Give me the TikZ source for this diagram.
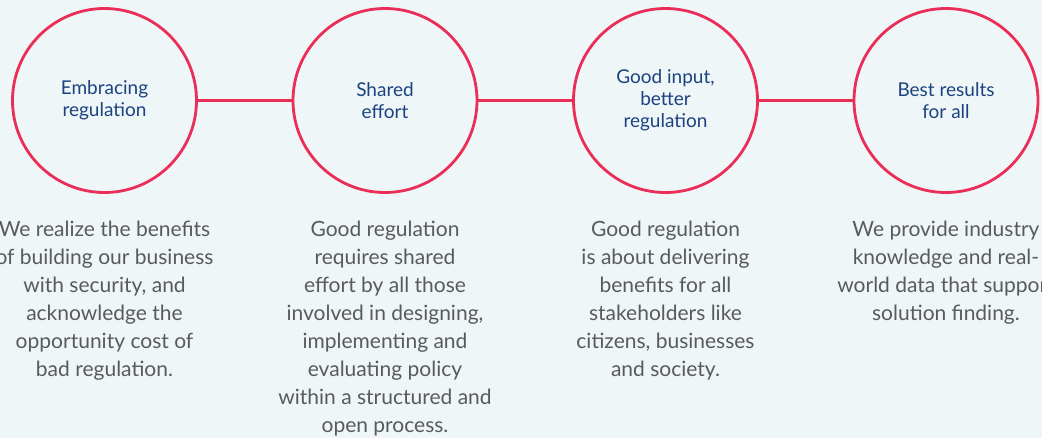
\documentclass[tikz,border=0pt]{standalone}
\usepackage{fontspec}
\setmainfont{Lato}
\definecolor{bg}{RGB}{239,246,248}
\definecolor{ring}{RGB}{234,46,88}
\definecolor{navy}{RGB}{28,66,128}
\definecolor{body}{RGB}{90,90,90}
\begin{document}
\begin{tikzpicture}[x=1pt,y=-1pt,
  ring/.style={circle,draw=ring,line width=2.8pt,fill=bg,minimum size=184pt,inner sep=0pt,
    text=navy,align=center,font=\fontsize{19}{22}\selectfont},
  link/.style={draw=ring,line width=2.8pt},
  desc/.style={anchor=north,align=center,text=body,inner sep=0pt,font=\fontsize{21}{28}\selectfont}]
\fill[bg] (0,0) rectangle (1042,438);
\useasboundingbox (0,0) rectangle (1042,438);
\node[ring] (c1) at (104.5,100.5) {Embracing\\regulation};
\node[ring] (c2) at (385,100.5) {Shared\\effort};
\node[ring] (c3) at (665.5,100.5) {Good input,\\better\\regulation};
\node[ring] (c4) at (946,100.5) {Best results\\for all};
\draw[link] (c1) -- (c2);
\draw[link] (c2) -- (c3);
\draw[link] (c3) -- (c4);
\node[desc] (d1) at (104.5,221) {We realize the benefits\\of building our business\\with security, and\\acknowledge the\\opportunity cost of\\bad regulation.};
\node[desc] (d2) at (385,221) {Good regulation\\requires shared\\effort by all those\\involved in designing,\\implementing and\\evaluating policy\\within a structured and\\open process.};
\node[desc] (d3) at (665.5,221) {Good regulation\\is about delivering\\benefits for all\\stakeholders like\\citizens, businesses\\and society.};
\node[desc] (d4) at (946,221) {We provide industry\\knowledge and real-\\world data that support\\solution finding.};
\end{tikzpicture}
\end{document}
